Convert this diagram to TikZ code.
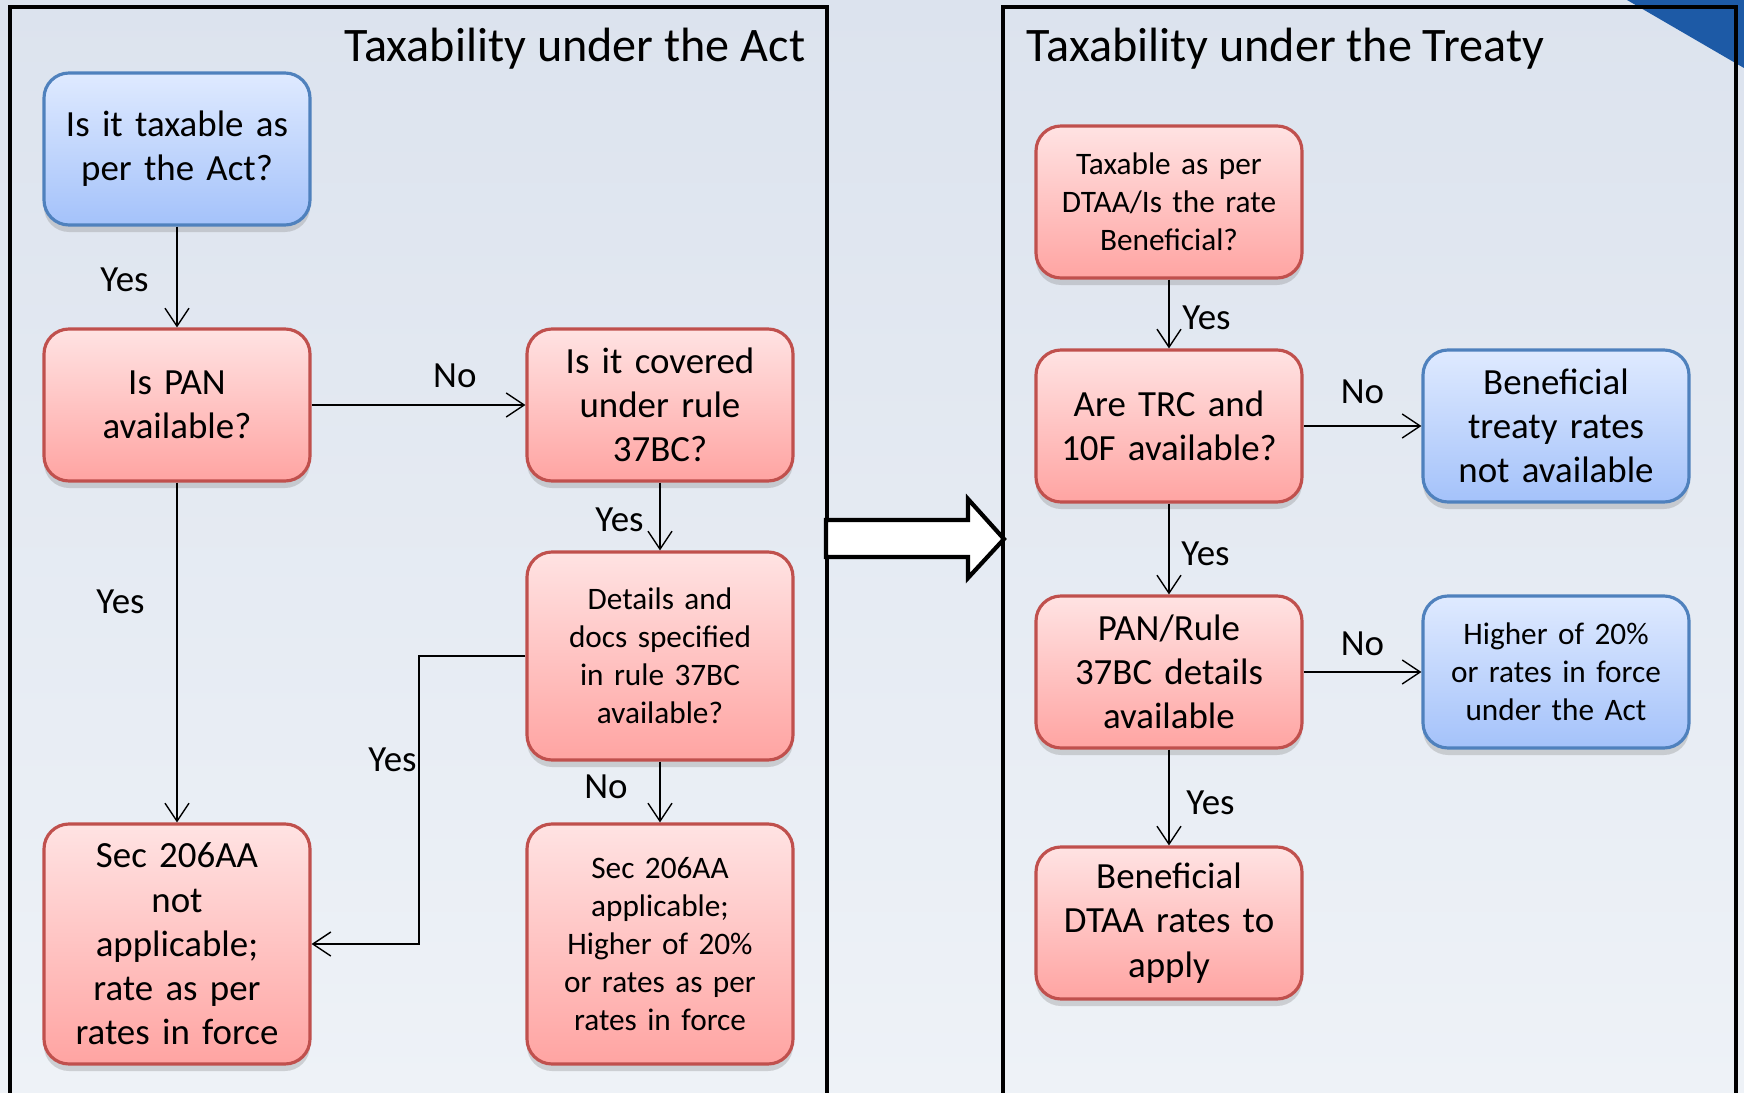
\documentclass[tikz,border=0pt]{standalone}
\usepackage{fontspec}
\setmainfont{Carlito}
\usetikzlibrary{positioning,shadows,arrows.meta}

\definecolor{redline}{HTML}{C0504D}
\definecolor{redtop}{HTML}{FFE3E3}
\definecolor{redbot}{HTML}{FFA4A2}
\definecolor{blueline}{HTML}{4F81BD}
\definecolor{bluetop}{HTML}{DFEAFF}
\definecolor{bluebot}{HTML}{A4C2FA}
\definecolor{bgtop}{HTML}{DCE3EE}
\definecolor{bgbot}{HTML}{EEF2F7}
\definecolor{cornerblue}{HTML}{1D5AA6}

\tikzset{
  box/.style={rectangle, rounded corners=2.5mm, minimum width=2.66cm, minimum height=1.52cm,
    text width=2.35cm, align=center, line width=0.9pt,
    drop shadow={shadow xshift=0pt, shadow yshift=-0.7mm, opacity=0.3},
    font=\fontsize{10.5}{12.6}\selectfont},
  redbox/.style={box, draw=redline, top color=redtop, bottom color=redbot},
  bluebox/.style={box, draw=blueline, top color=bluetop, bottom color=bluebot},
  smalltext/.style={font=\fontsize{8.9}{10.8}\selectfont},
  lbl/.style={font=\fontsize{10.5}{12.6}\selectfont},
  titletext/.style={font=\fontsize{13.7}{16}\selectfont, inner sep=0pt},
  frame/.style={line width=1.3pt},
  >={Straight Barb[length=1.8mm,width=2.4mm]}
}

\begin{document}
\begin{tikzpicture}[x=0.1mm, y=-0.1mm]
                \useasboundingbox (0,0) rectangle (1744,1093);
                \fill[top color=bgtop, bottom color=bgbot] (0,0) rectangle (1744,1093);
                \fill[cornerblue] (1627,0) -- (1744,0) -- (1744,68) -- cycle;
                
                % the two panels
                \draw[frame] (10,1100) -- (10,7) -- (827,7) -- (827,1100);
                \draw[frame] (1003,1100) -- (1003,7) -- (1736,7) -- (1736,1100);
                \node[titletext, anchor=base east] (acttitle) at (806,62) {Taxability under the Act};
                \node[titletext, anchor=base west] (treatytitle) at (1026,62) {Taxability under the Treaty};
                
                % block arrow between the panels
                \draw[line width=1.2pt, fill=white] (826,520) -- (968,520) -- (968,499) -- (1004,539)
                    -- (968,578) -- (968,557) -- (826,557) -- cycle;
                
                % under the Act
                \node[bluebox] (taxact) at (177,149) {Is it taxable as\\per the Act?};
                \node[redbox] (pan) at (177,405) {Is PAN\\available?};
                \node[redbox] (rule) at (660,405) {Is it covered\\under rule\\37BC?};
                \node[redbox, smalltext, minimum height=2.08cm] (docs) at (660,656) {Details and\\docs specified\\in rule 37BC\\available?};
                \node[redbox, minimum height=2.40cm] (notapp) at (177,944) {Sec 206AA\\not\\applicable;\\rate as per\\rates in force};
                \node[redbox, smalltext, minimum height=2.40cm] (app) at (660,944) {Sec 206AA\\applicable;\\Higher of 20\%\\or rates as per\\rates in force};
                \coordinate (bend) at (419,656);
                
                \draw [->] (taxact) -- node[lbl, pos=0.53, left=1.6mm] {Yes} (pan);
                \draw [->] (pan) -- node[lbl, pos=0.67, above=0.5mm] {No} (rule);
                \draw [->] (rule) -- node[lbl, pos=0.55, left=0.4mm] {Yes} (docs);
                \draw [->] (pan) -- node[lbl, pos=0.35, left=2mm] {Yes} (notapp);
                \draw [->] (docs.west) -- (bend) |- node[lbl, pos=0.18, left, inner sep=0.5pt] {Yes} (notapp.east);
                \draw [->] (docs) -- node[lbl, pos=0.42, left=2mm] {No} (app);
                
                % under the Treaty
                \node[redbox, smalltext] (dtaa) at (1169,202) {Taxable as per\\DTAA/Is the rate\\Beneficial?};
                \node[redbox] (trc) at (1169,426) {Are TRC and\\10F available?};
                \node[bluebox] (notavail) at (1556,426) {Beneficial\\treaty rates\\not available};
                \node[redbox] (pandet) at (1169,672) {PAN/Rule\\37BC details\\available};
                \node[bluebox, smalltext] (higher) at (1556,672) {Higher of 20\%\\or rates in force\\under the Act};
                \node[redbox] (apply) at (1169,923) {Beneficial\\DTAA rates to\\apply};
                
                \draw [->] (dtaa) -- node[lbl, pos=0.55, right=0.1mm] {Yes} (trc);
                \draw [->] (trc) -- node[lbl, above=1mm] {No} (notavail);
                \draw [->] (trc) -- node[lbl, pos=0.55, right=0mm] {Yes} (pandet);
                \draw [->] (pandet) -- node[lbl, above=0.4mm] {No} (higher);
                \draw [->] (pandet) -- node[lbl, pos=0.55, right=0.5mm] {Yes} (apply);
            \end{tikzpicture}
\end{document}
